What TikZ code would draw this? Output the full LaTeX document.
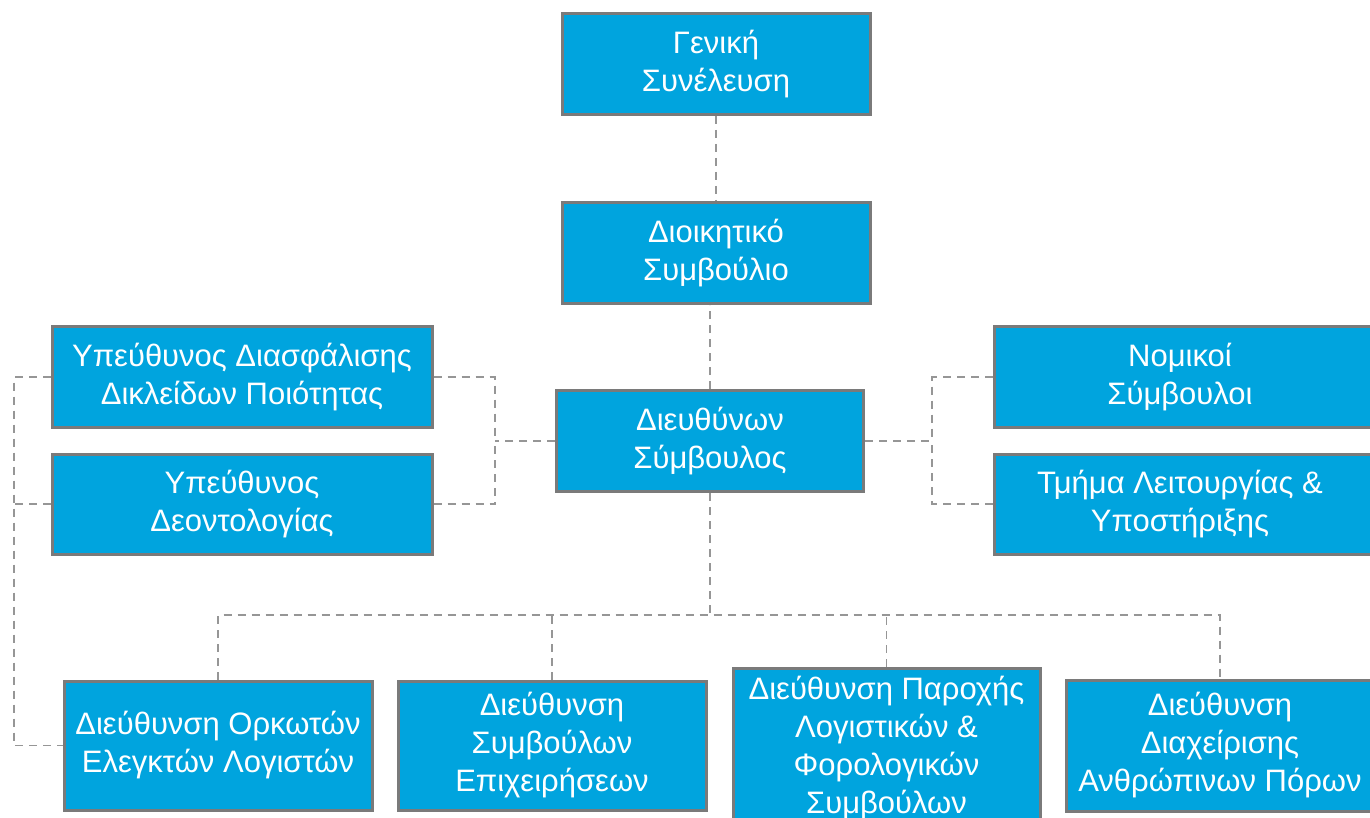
\documentclass[tikz,border=0pt]{standalone}
\usepackage{fontspec}
\setmainfont{Liberation Sans}
\definecolor{boxblue}{RGB}{0,164,222}
\definecolor{boxedge}{RGB}{122,122,122}
\definecolor{linkgray}{RGB}{150,150,150}
\tikzset{
  orgbox/.style={rectangle, fill=boxblue, draw=boxedge, line width=3pt, text=white,
    align=center, inner sep=0pt, font=\fontsize{31}{38}\selectfont},
  link/.style={draw=linkgray, line width=1.8pt, dash pattern=on 8pt off 6pt}
}
\begin{document}
\begin{tikzpicture}[x=1pt,y=-1pt]
\useasboundingbox (0,0) rectangle (1370,818);
\clip (0,0) rectangle (1370,818);
\node[orgbox, minimum width=308pt, minimum height=101pt] (gs) at (716,64) {Γενική\\Συνέλευση};
\node[orgbox, minimum width=308pt, minimum height=101pt] (ds) at (716,253) {Διοικητικό\\Συμβούλιο};
\node[orgbox, minimum width=307pt, minimum height=101pt] (ceo) at (710,441) {Διευθύνων\\Σύμβουλος};
\node[orgbox, minimum width=380pt, minimum height=101pt] (q) at (242,377) {Υπεύθυνος Διασφάλισης\\Δικλείδων Ποιότητας};
\node[orgbox, minimum width=380pt, minimum height=100pt] (eth) at (242,504) {Υπεύθυνος\\Δεοντολογίας};
\node[orgbox, minimum width=400pt, minimum height=101pt] (leg) at (1194,377) {\hspace*{-28pt}Νομικοί\\\hspace*{-28pt}Σύμβουλοι};
\node[orgbox, minimum width=400pt, minimum height=100pt] (ops) at (1194,504) {\hspace*{-28pt}Τμήμα Λειτουργίας \&\\\hspace*{-28pt}Υποστήριξης};
\node[orgbox, minimum width=308pt, minimum height=129pt] (d1) at (218,745.5) {Διεύθυνση Ορκωτών\\Ελεγκτών Λογιστών};
\node[orgbox, minimum width=308pt, minimum height=129pt] (d2) at (552,745.5) {Διεύθυνση\\Συμβούλων\\Επιχειρήσεων};
\node[orgbox, minimum width=307pt, minimum height=160pt] (d3) at (886.5,748) {Διεύθυνση Παροχής\\Λογιστικών \&\\Φορολογικών\\Συμβούλων};
\node[orgbox, minimum width=308pt, minimum height=131pt] (d4) at (1220,745.5) {Διεύθυνση\\Διαχείρισης\\Ανθρώπινων Πόρων};
\coordinate (lj) at (495,441);
\coordinate (rj) at (932,441);
\coordinate (fl) at (14,377);
\coordinate (bj) at (710,615);
\draw[link] (gs.south) -- (ds.north);
\draw[link] (ceo.north) -- (ceo.north |- ds.south);
\draw[link] (ceo.west) -- (lj);
\draw[link] (q.east) -| (lj);
\draw[link] (eth.east) -| (lj);
\draw[link] (ceo.east) -- (rj);
\draw[link] (leg.west) -| (rj);
\draw[link] (ops.west) -| (rj);
\draw[link] (q.west) -- (fl) |- (d1.west);
\draw[link] (eth.west) -- (eth.west -| fl);
\draw[link] (ceo.south) -- (bj);
\draw[link] (d1.north) |- (bj) -| (d4.north);
\draw[link] (d2.north) -- (d2.north |- bj);
\draw[link] (d3.north) -- (d3.north |- bj);
\end{tikzpicture}
\end{document}
